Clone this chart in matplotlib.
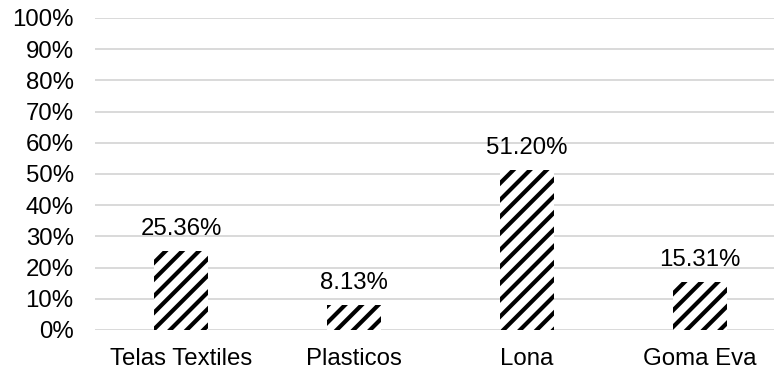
import matplotlib
matplotlib.use("Agg")
import matplotlib.pyplot as plt
from matplotlib.ticker import FuncFormatter

categories = ["Telas Textiles", "Plasticos", "Lona", "Goma Eva"]
values = [25.36, 8.13, 51.20, 15.31]
labels = ["25.36%", "8.13%", "51.20%", "15.31%"]
yticks = [0, 10, 20, 30, 40, 50, 60, 70, 80, 90, 100]

plt.rcParams['font.family'] = ['Liberation Sans', 'DejaVu Sans']
plt.rcParams['hatch.linewidth'] = 3.0
plt.rcParams['hatch.color'] = 'black'

fig = plt.figure(figsize=(7.74, 3.74), dpi=100)
left = 94.5 / 774
right = 786.5 / 774
bottom = (374 - 330) / 374
top = (374 - 18) / 374
ax = fig.add_axes([left, bottom, right - left, top - bottom])

x = range(len(categories))
bars = ax.bar(x, values, width=0.31, color='white', edgecolor='black',
              linewidth=0, hatch='//', zorder=3)

for xi, v, lab in zip(x, values, labels):
    ax.annotate(lab, (xi, v), xytext=(0, 11.5), textcoords='offset points',
                ha='center', va='baseline', fontsize=17.3, color='#000000')

ax.set_xlim(-0.5, len(categories) - 0.5)
ax.set_ylim(0, 100)
ax.set_yticks(yticks)
ax.yaxis.set_major_formatter(FuncFormatter(lambda v, p: f"{int(v)}%"))
ax.set_xticks(list(x))
ax.set_xticklabels(categories)
ax.tick_params(axis='both', length=0, labelsize=17.3, colors='#000000')
ax.tick_params(axis='y', pad=15)
ax.tick_params(axis='x', pad=13)
ax.grid(axis='y', color='#d9d9d9', linewidth=1.4, zorder=0)
for s in ax.spines.values():
    s.set_visible(False)

fig.savefig("out.png", dpi=100)
